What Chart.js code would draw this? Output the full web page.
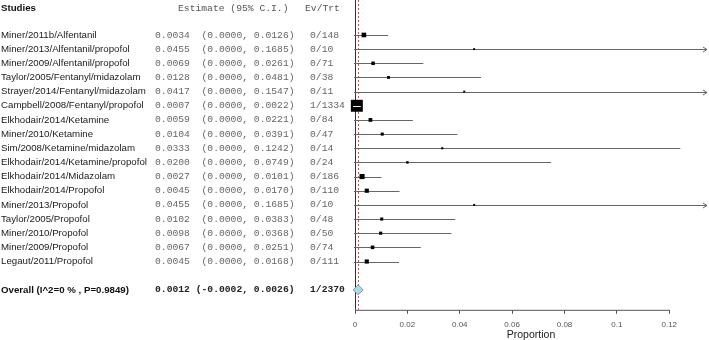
<!DOCTYPE html>
<html>

<head>
    <title>Forest plot</title>
    <script src="https://cdn.jsdelivr.net/npm/chart.js"></script>
    <style>
        html, body { margin: 0; padding: 0; background: #fff; }
    </style>
</head>

<body>
    <div style="width:709px;height:340px;position:relative">
        <canvas id="myChart" width="709" height="340"></canvas>
    </div>

    <script>
        // data
        const studies = [
            'Miner/2011b/Alfentanil', 'Miner/2013/Alfentanil/propofol', 'Miner/2009/Alfentanil/propofol',
            'Taylor/2005/Fentanyl/midazolam', 'Strayer/2014/Fentanyl/midazolam', 'Campbell/2008/Fentanyl/propofol',
            'Elkhodair/2014/Ketamine', 'Miner/2010/Ketamine', 'Sim/2008/Ketamine/midazolam',
            'Elkhodair/2014/Ketamine/propofol', 'Elkhodair/2014/Midazolam', 'Elkhodair/2014/Propofol',
            'Miner/2013/Propofol', 'Taylor/2005/Propofol', 'Miner/2010/Propofol', 'Miner/2009/Propofol',
            'Legaut/2011/Propofol'
        ];
        const estimates = [0.0034, 0.0455, 0.0069, 0.0128, 0.0417, 0.0007, 0.0059, 0.0104, 0.0333,
            0.0200, 0.0027, 0.0045, 0.0455, 0.0102, 0.0098, 0.0067, 0.0045];
        const lower = [0, 0, 0, 0, 0, 0, 0, 0, 0, 0, 0, 0, 0, 0, 0, 0, 0];
        const upper = [0.0126, 0.1685, 0.0261, 0.0481, 0.1547, 0.0022, 0.0221, 0.0391, 0.1242,
            0.0749, 0.0101, 0.0170, 0.1685, 0.0383, 0.0368, 0.0251, 0.0168];
        const events = [0, 0, 0, 0, 0, 1, 0, 0, 0, 0, 0, 0, 0, 0, 0, 0, 0];
        const totals = [148, 10, 71, 38, 11, 1334, 84, 47, 14, 24, 186, 110, 10, 48, 50, 74, 111];

        const overallLabel = 'Overall (I^2=0 % , P=0.9849)';
        const overallEst = 0.0012;
        const overallLower = -0.0002;
        const overallUpper = 0.0026;
        const overallEvents = 1;
        const overallTotal = 2370;

        const xTicks = [0, 0.02, 0.04, 0.06, 0.08, 0.1, 0.12];

        const overallRow = studies.length + 1;
        const sans = '"Liberation Sans", Arial, sans-serif';
        const mono = '"Liberation Mono", "Courier New", monospace';

        // box side grows with study size
        function boxRadius(n) {
            var side = 1 + 0.3 * Math.sqrt(n);
            return side / Math.SQRT2;
        }

        var points = [];
        for (let i = 0; i < studies.length; i++) {
            points.push({ x: estimates[i], y: i });
        }

        const forestPlugin = {
            id: 'forest',
            beforeDatasetsDraw(chart) {
                const ctx = chart.ctx;
                const xs = chart.scales.x;
                const ys = chart.scales.y;
                const area = chart.chartArea;
                ctx.save();
                // left axis
                ctx.strokeStyle = '#333';
                ctx.lineWidth = 1;
                ctx.beginPath();
                ctx.moveTo(area.left + 0.5, 0);
                ctx.lineTo(area.left + 0.5, area.bottom);
                ctx.stroke();
                // bottom axis up to last tick
                ctx.strokeStyle = '#555';
                ctx.beginPath();
                ctx.moveTo(area.left, area.bottom + 0.5);
                ctx.lineTo(xs.getPixelForValue(xTicks[xTicks.length - 1]) + 0.5, area.bottom + 0.5);
                ctx.stroke();
                // overall reference line
                ctx.strokeStyle = '#e8454a';
                ctx.setLineDash([2, 2]);
                ctx.beginPath();
                var rx = Math.round(xs.getPixelForValue(overallEst)) + 0.5;
                ctx.moveTo(rx, area.top);
                ctx.lineTo(rx, area.bottom);
                ctx.stroke();
                ctx.setLineDash([]);
                // confidence intervals
                ctx.strokeStyle = '#666';
                for (let i = 0; i < studies.length; i++) {
                    var y = Math.round(ys.getPixelForValue(i)) + 0.5;
                    var x0 = xs.getPixelForValue(Math.max(lower[i], xs.min)) - 1;
                    var clipped = upper[i] > xs.max;
                    var x1 = xs.getPixelForValue(Math.min(upper[i], xs.max));
                    ctx.beginPath();
                    ctx.moveTo(x0, y);
                    ctx.lineTo(x1, y);
                    ctx.stroke();
                    if (clipped) {
                        ctx.beginPath();
                        ctx.moveTo(x1 - 4, y - 2.5);
                        ctx.lineTo(x1, y);
                        ctx.lineTo(x1 - 4, y + 2.5);
                        ctx.stroke();
                    }
                }
                ctx.restore();
            },
            afterDatasetsDraw(chart) {
                const ctx = chart.ctx;
                const xs = chart.scales.x;
                const ys = chart.scales.y;
                ctx.save();
                // CI hidden inside a large box is drawn light
                ctx.strokeStyle = '#eee';
                for (let i = 0; i < studies.length; i++) {
                    var cx = xs.getPixelForValue(estimates[i]);
                    var half = boxRadius(totals[i]) * Math.SQRT1_2;
                    var x0 = xs.getPixelForValue(lower[i]);
                    var x1 = xs.getPixelForValue(upper[i]);
                    if (cx - half <= x0 && cx + half >= x1) {
                        var y = Math.round(ys.getPixelForValue(i)) + 0.5;
                        ctx.beginPath();
                        ctx.moveTo(x0 - 2, y);
                        ctx.lineTo(x1, y);
                        ctx.stroke();
                    }
                }
                // overall diamond
                var dy = ys.getPixelForValue(overallRow);
                var dc = xs.getPixelForValue(overallEst);
                var dl = Math.min(xs.getPixelForValue(overallLower), dc - 5);
                var dr = Math.max(xs.getPixelForValue(overallUpper), dc + 5);
                ctx.fillStyle = '#add8e6';
                ctx.strokeStyle = '#7a9aa8';
                ctx.beginPath();
                ctx.moveTo(dl, dy);
                ctx.lineTo(dc, dy - 5);
                ctx.lineTo(dr, dy);
                ctx.lineTo(dc, dy + 5);
                ctx.closePath();
                ctx.fill();
                ctx.stroke();
                ctx.restore();
            },
            afterDraw(chart) {
                const ctx = chart.ctx;
                const ys = chart.scales.y;
                ctx.save();
                ctx.textBaseline = 'middle';
                ctx.textAlign = 'left';
                var hy = ys.getPixelForValue(-1.9);
                ctx.fillStyle = '#111';
                ctx.font = 'bold 9.7px ' + sans;
                ctx.fillText('Studies', 1, hy);
                ctx.fillStyle = '#555';
                ctx.font = '9.7px ' + mono;
                ctx.fillText('Estimate (95% C.I.)', 178, hy);
                ctx.fillText('Ev/Trt', 305, hy);

                for (let i = 0; i < studies.length; i++) {
                    var y = ys.getPixelForValue(i);
                    ctx.fillStyle = '#1a1a1a';
                    ctx.font = '9.7px ' + sans;
                    ctx.fillText(studies[i], 1, y);
                    ctx.fillStyle = '#666';
                    ctx.font = '9.7px ' + mono;
                    ctx.fillText(estimates[i].toFixed(4) + '  (' + lower[i].toFixed(4) + ', ' + upper[i].toFixed(4) + ')', 155, y);
                    ctx.fillText(events[i] + '/' + totals[i], 310, y);
                }

                var oy = ys.getPixelForValue(overallRow);
                ctx.fillStyle = '#111';
                ctx.font = 'bold 9.7px ' + sans;
                ctx.fillText(overallLabel, 1, oy);
                ctx.fillStyle = '#222';
                ctx.font = 'bold 9.7px ' + mono;
                ctx.fillText(overallEst.toFixed(4) + ' (' + overallLower.toFixed(4) + ', ' + overallUpper.toFixed(4) + ')', 155, oy);
                ctx.fillText(overallEvents + '/' + overallTotal, 310, oy);
                ctx.restore();
            }
        };

        const config = {
            type: 'scatter',
            data: {
                datasets: [{
                    data: points,
                    pointStyle: 'rect',
                    backgroundColor: '#000',
                    borderWidth: 0,
                    pointRadius: points.map((p, i) => boxRadius(totals[i])),
                    clip: false
                }]
            },
            options: {
                responsive: false,
                animation: false,
                layout: { autoPadding: false, padding: { left: 355, right: 2, top: 0, bottom: 0 } },
                scales: {
                    x: {
                        type: 'linear',
                        min: 0,
                        max: 0.1344,
                        afterBuildTicks: function (scale) {
                            scale.ticks = xTicks.map(v => ({ value: v }));
                        },
                        grid: { display: true, drawOnChartArea: false, drawTicks: true, tickLength: 4, color: '#555' },
                        border: { display: false },
                        ticks: {
                            font: { size: 8, family: sans },
                            color: '#555',
                            padding: 6,
                            maxRotation: 0,
                            callback: v => String(+v.toFixed(2))
                        },
                        title: {
                            display: true,
                            text: 'Proportion',
                            font: { size: 10.5, family: sans },
                            color: '#222',
                            padding: { top: -7, bottom: -1 }
                        }
                    },
                    y: {
                        type: 'linear',
                        reverse: true,
                        min: -2.47,
                        max: 19.41,
                        display: false
                    }
                },
                plugins: {
                    legend: { display: false },
                    tooltip: { enabled: false }
                }
            },
            plugins: [forestPlugin]
        };

        var myChart = new Chart(document.getElementById('myChart'), config);
    </script>

</body>

</html>
